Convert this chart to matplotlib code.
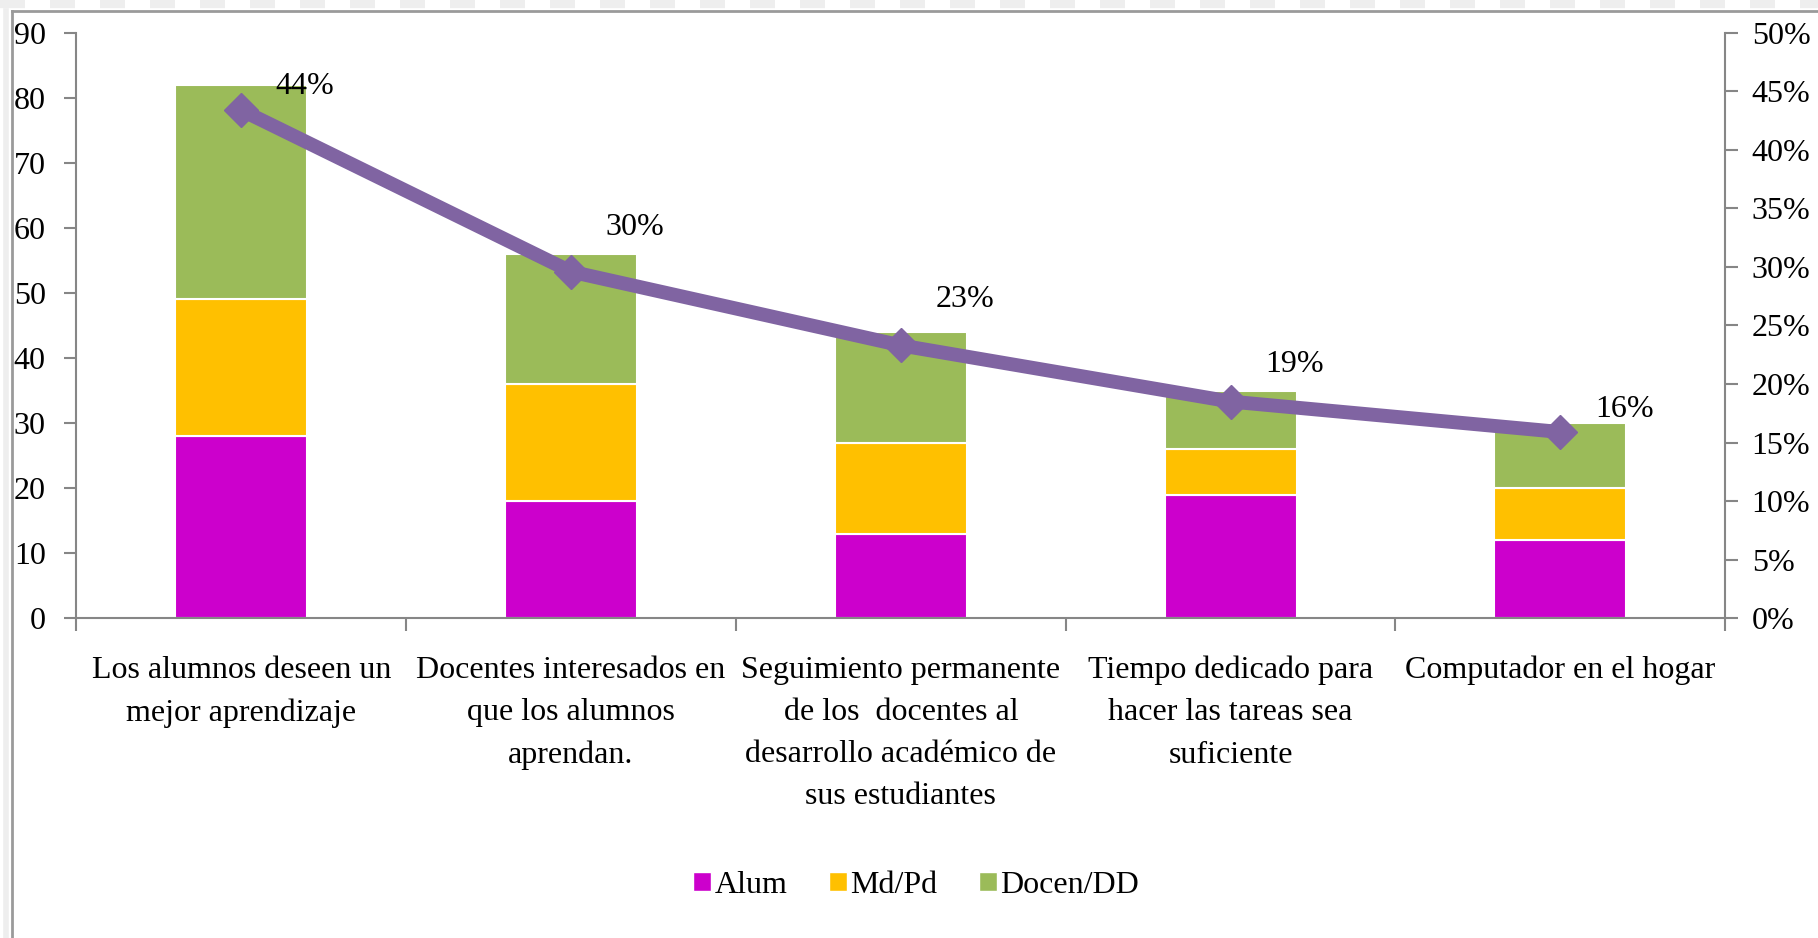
import numpy as np
import matplotlib.pyplot as plt
from matplotlib.patches import Patch
from matplotlib.lines import Line2D
from matplotlib.ticker import PercentFormatter, FixedLocator

# datos del grafico
categorias = ["Los alumnos deseen un\nmejor aprendizaje",
              "Docentes interesados en\nque los alumnos\naprendan.",
              "Seguimiento permanente\nde los  docentes al\ndesarrollo académico de\nsus estudiantes",
              "Tiempo dedicado para\nhacer las tareas sea\nsuficiente",
              "Computador en el hogar"]
alum = [28, 18, 13, 19, 12]
md_pd = [21, 18, 14, 7, 8]
docen_dd = [33, 20, 17, 9, 10]
porcentaje = [0.434, 0.296, 0.233, 0.185, 0.159]
etiquetas_pct = ["44%", "30%", "23%", "19%", "16%"]
series = ["Alum", "Md/Pd", "Docen/DD"]
colores = ["#CC00CC", "#FFC000", "#9BBB59"]

plt.rcParams['font.family'] = ['Liberation Serif', 'DejaVu Serif']
fs = 23
gris = "#868686"

fig = plt.figure(figsize=(18.18, 9.38), dpi=100)
ax = fig.add_axes([0.042, 0.341, 0.907, 0.624])
x = np.arange(len(categorias))

abajo = np.zeros(len(x))
for vals, col, nom in zip([alum, md_pd, docen_dd], colores, series):
    ax.bar(x, vals, 0.4, bottom=abajo, color=col, edgecolor="white", linewidth=1.5, label=nom, zorder=2)
    abajo += np.array(vals)

ax.set_xlim(-0.5, len(x) - 0.5)
ax.set_ylim(0, 90)
ax.set_yticks(range(0, 91, 10))
ax.set_xticks(x)
ax.set_xticklabels(categorias, fontsize=fs, linespacing=1.6, va="top")
ax.xaxis.set_minor_locator(FixedLocator(np.arange(-0.5, len(x), 1.0)))
ax.tick_params(axis="x", which="major", length=0, pad=27)
ax.tick_params(axis="x", which="minor", length=9, width=1.5, color=gris, direction="out")
ax.tick_params(axis="y", labelsize=fs, length=9, width=1.5, color=gris, pad=13)
for s in ["top", "right"]:
    ax.spines[s].set_visible(False)
for s in ["left", "bottom"]:
    ax.spines[s].set_color(gris)
    ax.spines[s].set_linewidth(1.5)

ax2 = ax.twinx()
ax2.set_ylim(0, 0.5)
ax2.set_yticks(np.arange(0, 0.501, 0.05))
ax2.yaxis.set_major_formatter(PercentFormatter(1.0, decimals=0))
ax2.tick_params(axis="y", labelsize=fs, length=9, width=1.5, color=gris, pad=10)
for s in ["top", "left", "bottom"]:
    ax2.spines[s].set_visible(False)
ax2.spines["right"].set_color(gris)
ax2.spines["right"].set_linewidth(1.5)

ax2.plot(x, porcentaje, color="#8064A2", linewidth=10, marker="D", markersize=17,
         solid_capstyle="round", zorder=3)

# etiquetas de porcentaje
dy = [17, 32, 33, 27, 16]
for xi, p, t, d in zip(x, porcentaje, etiquetas_pct, dy):
    ax2.annotate(t, (xi, p), xytext=(46, d), textcoords="offset points",
                 ha="center", va="center", fontsize=fs)

handles = [Patch(facecolor=c, edgecolor="white", label=n) for c, n in zip(colores, series)]
fig.legend(handles=handles, loc="center", bbox_to_anchor=(0.504, 0.056), ncol=3,
           frameon=False, fontsize=fs, handlelength=0.55, handleheight=0.55,
           handletextpad=0.12, columnspacing=1.3)

# marco del grafico
fig.add_artist(Line2D([0.0066, 0.0066], [0, 0.988], transform=fig.transFigure, color="#9A9A9A", linewidth=2))
fig.add_artist(Line2D([0.0066, 1], [0.988, 0.988], transform=fig.transFigure, color="#9A9A9A", linewidth=2))
fig.add_artist(Line2D([0.0035, 0.0035], [0, 0.988], transform=fig.transFigure, color="#EEEEEE", linewidth=4))
fig.add_artist(Line2D([0, 1], [0.996, 0.996], transform=fig.transFigure, color="#EEEEEE", linewidth=6,
                      dashes=(3, 3)))

fig.savefig("out.png", dpi=100)
